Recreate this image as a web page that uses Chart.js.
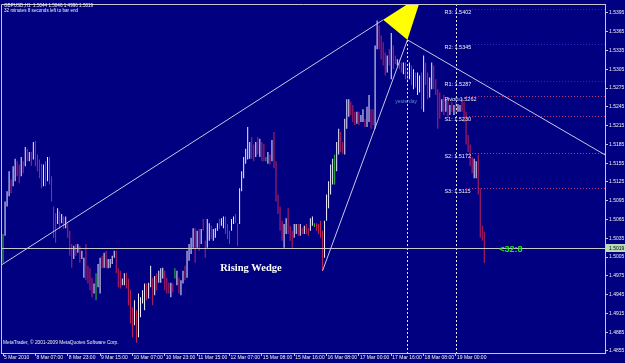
<!DOCTYPE html>
<html>
<head>
<meta charset="utf-8">
<style>
  html, body { margin: 0; padding: 0; background: #000080; }
  canvas { display: block; }
</style>
<script src="https://cdn.jsdelivr.net/npm/chart.js@4.4.1/dist/chart.umd.min.js"></script>
</head>
<body>
<canvas id="chart" width="625" height="363"></canvas>
<script>
// ==========================================
// DATA  (GBPUSD, H1 bars)
// ==========================================
const symbol = 'GBPUSD,H1';

const opens = [
  1.5019,1.5042,1.5089,1.5105,1.5126,1.5121,1.5130,1.5155,1.5150,1.5137,
  1.5155,1.5153,1.5175,1.5160,1.5170,1.5164,1.5187,1.5165,1.5158,1.5151,
  1.5121,1.5154,1.5129,1.5162,1.5130,1.5083,1.5072,1.5061,1.5075,1.5062,
  1.5067,1.5054,1.5056,1.5044,1.5023,1.5005,1.5023,1.5014,1.5020,1.5004,
  1.4975,1.5022,1.4988,1.4984,1.4969,1.4949,1.4957,1.4960,1.4950,1.5004,
  1.4991,1.5012,1.4989,1.4990,1.4996,1.5006,1.5012,1.4984,1.4980,1.4962,
  1.4963,1.4977,1.4968,1.4949,1.4922,1.4899,1.4917,1.4880,1.4912,1.4934,
  1.4923,1.4960,1.4942,1.4960,1.4969,1.4947,1.4976,1.4967,1.4967,1.4973,
  1.4980,1.4969,1.4962,1.4944,1.4961,1.4979,1.4963,1.4969,1.4947,1.4966,
  1.4988,1.4975,1.5002,1.5013,1.5023,1.5047,1.5023,1.5046,1.5029,1.5063,
  1.5028,1.5023,1.5034,1.5052,1.5034,1.5038,1.5049,1.5064,1.5057,1.5053,
  1.5067,1.5055,1.5044,1.5049,1.5060,1.5072,1.5056,1.5061,1.5113,1.5134,
  1.5157,1.5164,1.5165,1.5194,1.5182,1.5168,1.5194,1.5168,1.5186,1.5183,
  1.5162,1.5157,1.5167,1.5161,1.5201,1.5154,1.5102,1.5083,1.5060,1.5023,
  1.5045,1.5079,1.5052,1.5044,1.5039,1.5044,1.5056,1.5041,1.5050,1.5044,
  1.5056,1.5049,1.5049,1.5057,1.5056,1.5057,1.5056,1.5060,1.5044,1.5007,
  1.5066,1.5086,1.5108,1.5124,1.5145,1.5145,1.5172,1.5202,1.5187,1.5172,
  1.5213,1.5232,1.5251,1.5245,1.5234,1.5220,1.5235,1.5223,1.5223,1.5224,
  1.5216,1.5224,1.5238,1.5238,1.5213,1.5340,1.5372,1.5356,1.5345,1.5329,
  1.5303,1.5334,1.5292,1.5340,1.5325,1.5313,1.5319,1.5314,1.5299,1.5313,
  1.5302,1.5292,1.5308,1.5276,1.5297,1.5267,1.5271,1.5297,1.5245,1.5313,
  1.5297,1.5263,1.5276,1.5308,1.5286,1.5270,1.5265,1.5239,1.5261,1.5239,
  1.5257,1.5234,1.5251,1.5234,1.5251,1.5239,1.5239,1.5255,1.5250,1.5234,
  1.5197,1.5182,1.5162,1.5134,1.5134,1.5155,1.5108,1.5050,1.5044
];
const highs = [
  1.5042,1.5094,1.5110,1.5142,1.5129,1.5150,1.5162,1.5158,1.5153,1.5165,
  1.5158,1.5181,1.5178,1.5173,1.5173,1.5189,1.5191,1.5169,1.5161,1.5154,
  1.5153,1.5158,1.5165,1.5165,1.5134,1.5086,1.5075,1.5083,1.5078,1.5074,
  1.5070,1.5070,1.5059,1.5047,1.5026,1.5023,1.5026,1.5026,1.5023,1.5015,
  1.5004,1.5026,1.4991,1.4987,1.4972,1.4963,1.4979,1.4994,1.5004,1.5007,
  1.5012,1.5015,1.5002,1.5002,1.5007,1.5015,1.5015,1.4987,1.4983,1.4971,
  1.4979,1.4980,1.4971,1.4952,1.4925,1.4936,1.4920,1.4947,1.4941,1.4952,
  1.4963,1.4963,1.4964,1.4991,1.4972,1.4975,1.4979,1.4983,1.4987,1.4988,
  1.4983,1.4972,1.4964,1.4964,1.4963,1.4987,1.4983,1.4972,1.4968,1.4983,
  1.4991,1.5015,1.5026,1.5036,1.5051,1.5051,1.5047,1.5050,1.5050,1.5066,
  1.5031,1.5066,1.5059,1.5055,1.5050,1.5051,1.5059,1.5066,1.5067,1.5070,
  1.5070,1.5058,1.5047,1.5066,1.5070,1.5074,1.5059,1.5115,1.5142,1.5165,
  1.5178,1.5213,1.5189,1.5197,1.5185,1.5189,1.5197,1.5194,1.5189,1.5186,
  1.5165,1.5173,1.5169,1.5192,1.5205,1.5158,1.5105,1.5086,1.5063,1.5058,
  1.5067,1.5083,1.5055,1.5047,1.5058,1.5058,1.5058,1.5058,1.5051,1.5055,
  1.5058,1.5051,1.5067,1.5070,1.5059,1.5059,1.5058,1.5063,1.5047,1.5063,
  1.5105,1.5126,1.5153,1.5162,1.5169,1.5189,1.5210,1.5205,1.5189,1.5226,
  1.5257,1.5257,1.5253,1.5248,1.5237,1.5237,1.5237,1.5232,1.5241,1.5226,
  1.5245,1.5264,1.5241,1.5241,1.5343,1.5383,1.5375,1.5359,1.5348,1.5332,
  1.5327,1.5337,1.5363,1.5343,1.5327,1.5321,1.5321,1.5316,1.5316,1.5316,
  1.5305,1.5316,1.5311,1.5305,1.5300,1.5300,1.5295,1.5300,1.5327,1.5316,
  1.5300,1.5292,1.5316,1.5311,1.5289,1.5273,1.5268,1.5257,1.5264,1.5257,
  1.5260,1.5248,1.5253,1.5248,1.5253,1.5249,1.5248,1.5257,1.5253,1.5237,
  1.5200,1.5185,1.5165,1.5162,1.5158,1.5169,1.5115,1.5055,1.5046
];
const lows = [
  1.4996,1.5039,1.5086,1.5102,1.5107,1.5118,1.5126,1.5134,1.5123,1.5134,
  1.5139,1.5150,1.5158,1.5158,1.5151,1.5161,1.5150,1.5142,1.5131,1.5115,
  1.5118,1.5118,1.5126,1.5121,1.5094,1.5036,1.5028,1.5058,1.5050,1.5059,
  1.5050,1.5051,1.5036,1.5007,1.4988,1.5002,1.5007,1.5012,1.4996,1.5002,
  1.4972,1.4968,1.4963,1.4952,1.4941,1.4947,1.4936,1.4957,1.4947,1.4987,
  1.4988,1.4987,1.4987,1.4988,1.4994,1.5004,1.4979,1.4957,1.4955,1.4960,
  1.4960,1.4955,1.4928,1.4899,1.4877,1.4896,1.4868,1.4877,1.4909,1.4931,
  1.4920,1.4936,1.4939,1.4957,1.4928,1.4944,1.4952,1.4964,1.4964,1.4971,
  1.4952,1.4947,1.4947,1.4941,1.4949,1.4971,1.4960,1.4947,1.4944,1.4963,
  1.4968,1.4972,1.4999,1.5010,1.5020,1.4996,1.5020,1.5015,1.5026,1.5047,
  1.5004,1.5020,1.5031,1.5034,1.5031,1.5036,1.5047,1.5050,1.5055,1.5051,
  1.5042,1.5034,1.5026,1.5047,1.5058,1.5059,1.5023,1.5058,1.5110,1.5131,
  1.5154,1.5161,1.5162,1.5162,1.5158,1.5165,1.5169,1.5165,1.5158,1.5158,
  1.5158,1.5154,1.5153,1.5158,1.5147,1.5094,1.5074,1.5047,1.5031,1.5020,
  1.5042,1.5042,1.5031,1.5020,1.5036,1.5042,1.5039,1.5039,1.5042,1.5042,
  1.5042,1.5039,1.5047,1.5055,1.5053,1.5047,1.5042,1.5036,1.4983,1.5004,
  1.5063,1.5083,1.5105,1.5121,1.5121,1.5142,1.5169,1.5173,1.5170,1.5169,
  1.5210,1.5229,1.5232,1.5221,1.5216,1.5218,1.5216,1.5221,1.5221,1.5213,
  1.5213,1.5221,1.5210,1.5216,1.5210,1.5337,1.5337,1.5321,1.5311,1.5295,
  1.5300,1.5311,1.5289,1.5305,1.5313,1.5311,1.5305,1.5300,1.5297,1.5289,
  1.5284,1.5289,1.5280,1.5273,1.5276,1.5264,1.5268,1.5241,1.5237,1.5280,
  1.5257,1.5260,1.5273,1.5273,1.5264,1.5210,1.5226,1.5237,1.5232,1.5237,
  1.5229,1.5232,1.5237,1.5232,1.5234,1.5237,1.5237,1.5237,1.5221,1.5185,
  1.5173,1.5150,1.5139,1.5131,1.5131,1.5105,1.5036,1.5031,1.4996
];
const closes = [
  1.5019,1.5090,1.5107,1.5138,1.5110,1.5146,1.5158,1.5137,1.5126,1.5161,
  1.5142,1.5178,1.5161,1.5170,1.5154,1.5186,1.5153,1.5145,1.5134,1.5118,
  1.5150,1.5122,1.5162,1.5124,1.5097,1.5040,1.5031,1.5080,1.5053,1.5071,
  1.5053,1.5067,1.5039,1.5010,1.4991,1.5020,1.5010,1.5024,1.4999,1.5013,
  1.5001,1.4971,1.4966,1.4955,1.4944,1.4960,1.4957,1.4991,1.5001,1.4990,
  1.5009,1.4990,1.4999,1.5000,1.5005,1.5013,1.4982,1.4960,1.4958,1.4969,
  1.4976,1.4958,1.4931,1.4902,1.4880,1.4933,1.4871,1.4944,1.4938,1.4949,
  1.4960,1.4939,1.4961,1.4988,1.4931,1.4972,1.4955,1.4980,1.4984,1.4986,
  1.4955,1.4950,1.4950,1.4961,1.4951,1.4979,1.4980,1.4950,1.4965,1.4980,
  1.4971,1.5012,1.5023,1.5033,1.5048,1.4999,1.5044,1.5018,1.5047,1.5050,
  1.5007,1.5063,1.5056,1.5037,1.5047,1.5049,1.5057,1.5052,1.5065,1.5068,
  1.5045,1.5037,1.5029,1.5063,1.5068,1.5061,1.5026,1.5112,1.5139,1.5162,
  1.5175,1.5210,1.5186,1.5165,1.5161,1.5186,1.5172,1.5191,1.5161,1.5161,
  1.5162,1.5170,1.5155,1.5189,1.5150,1.5097,1.5077,1.5050,1.5034,1.5055,
  1.5064,1.5045,1.5034,1.5023,1.5055,1.5056,1.5041,1.5056,1.5044,1.5053,
  1.5044,1.5041,1.5065,1.5068,1.5056,1.5049,1.5044,1.5039,1.4986,1.5060,
  1.5102,1.5123,1.5150,1.5159,1.5145,1.5186,1.5207,1.5176,1.5172,1.5223,
  1.5254,1.5255,1.5234,1.5224,1.5218,1.5235,1.5218,1.5230,1.5239,1.5215,
  1.5242,1.5261,1.5213,1.5219,1.5340,1.5378,1.5340,1.5324,1.5314,1.5298,
  1.5324,1.5314,1.5360,1.5308,1.5315,1.5319,1.5307,1.5302,1.5314,1.5292,
  1.5287,1.5313,1.5283,1.5302,1.5279,1.5297,1.5292,1.5244,1.5324,1.5283,
  1.5260,1.5289,1.5313,1.5276,1.5267,1.5213,1.5229,1.5254,1.5235,1.5254,
  1.5232,1.5246,1.5239,1.5246,1.5236,1.5247,1.5246,1.5239,1.5224,1.5188,
  1.5176,1.5153,1.5142,1.5159,1.5155,1.5108,1.5040,1.5044,1.5019
];

// time axis: one label every 16 bars
const timeTickIndex = [0, 16, 32, 48, 64, 80, 96, 112, 128, 144, 160, 176, 192, 208, 224];
const timeLabels = ['5 Mar 2010', '8 Mar 07:00', '8 Mar 23:00', '9 Mar 15:00', '10 Mar 07:00',
  '10 Mar 23:00', '11 Mar 15:00', '12 Mar 07:00', '15 Mar 08:00', '15 Mar 16:00',
  '16 Mar 08:00', '17 Mar 00:00', '17 Mar 16:00', '18 Mar 08:00', '19 Mar 00:00'];

const priceTicks = [1.4855, 1.4885, 1.4915, 1.4945, 1.4975, 1.5005, 1.5035, 1.5065, 1.5095, 1.5125,
  1.5155, 1.5185, 1.5215, 1.5245, 1.5275, 1.5305, 1.5335, 1.5365, 1.5395];

// daily pivots
const pivotNames = ['R3', 'R2', 'R1', 'Pivot', 'S1', 'S2', 'S3'];
const pivotValues = [1.5402, 1.5345, 1.5287, 1.5262, 1.5230, 1.5172, 1.5115];

// objects on the chart, as [bar index, price]
const wedgeLine1 = [[-1, 1.4992], [188, 1.5384]];
const wedgeLine2 = [[158, 1.4983], [200, 1.5352]];
const breakLine = [[200, 1.5352], [300, 1.5164]];
const trianglePoints = [[188, 1.5384], [200, 1.5352], [207.2, 1.5424]];
const daySeparators = [200, 224];

const bidPrice = 1.5019;
const timeLeft = '32 minutes 8 seconds left to bar end';
const timerText = '<32:8';

// ==========================================
// STYLE
// ==========================================
const bgColor = '#000080';
const upColor = '#f0f0ff';
const downColor = '#c8205a';
const dojiColor = '#30c030';
const axisColor = '#c8c8c8';
const textColor = '#f0f0f0';
const smallFont = '"Liberation Sans", Arial, sans-serif';

const barColors = closes.map((c, i) => c > opens[i] ? upColor : (c < opens[i] ? downColor : dojiColor));
const last = closes.length - 1;

// ==========================================
// OVERLAY PLUGIN (objects, labels, frame)
// ==========================================
const overlay = {
  id: 'overlay',
  beforeDraw(chart) {
    const c = chart.ctx;
    c.save();
    c.fillStyle = bgColor;
    c.fillRect(0, 0, chart.width, chart.height);
    c.restore();
  },
  afterDatasetsDraw(chart) {
    const c = chart.ctx;
    const a = chart.chartArea;
    const xs = chart.scales.x, ys = chart.scales.y;
    const px = v => xs.getPixelForValue(v);
    const py = v => ys.getPixelForValue(v);
    const crisp = v => Math.round(v) + 0.5;

    c.save();
    c.beginPath();
    c.rect(a.left, a.top, a.right - a.left, a.bottom - a.top);
    c.clip();
    c.lineWidth = 1;

    // bid line
    const by = crisp(py(bidPrice));
    c.strokeStyle = '#c8c8c8';
    c.beginPath(); c.moveTo(a.left, by); c.lineTo(a.right, by); c.stroke();

    // day separators
    c.setLineDash([2, 2]);
    c.strokeStyle = '#e8e8e8';
    daySeparators.forEach(i => {
      const X = crisp(px(i));
      c.beginPath(); c.moveTo(X, a.top); c.lineTo(X, a.bottom); c.stroke();
    });

    // pivot levels
    c.setLineDash([1, 2]);
    pivotValues.forEach((v, k) => {
      c.strokeStyle = pivotNames[k].charAt(0) === 'R' ? '#2c2cc4' : '#c03a7a';
      const Y = crisp(py(v));
      c.beginPath(); c.moveTo(px(229), Y); c.lineTo(a.right, Y); c.stroke();
    });
    c.setLineDash([]);

    // trend lines
    c.strokeStyle = '#c8c8e8';
    [wedgeLine1, wedgeLine2, breakLine].forEach(l => {
      c.beginPath();
      c.moveTo(px(l[0][0]), py(l[0][1]));
      c.lineTo(px(l[1][0]), py(l[1][1]));
      c.stroke();
    });

    // triangle
    c.fillStyle = '#ffff00';
    c.beginPath();
    trianglePoints.forEach(([i, p], k) => k ? c.lineTo(px(i), py(p)) : c.moveTo(px(i), py(p)));
    c.closePath();
    c.fill();
    c.restore();

    // frame (left + top)
    c.save();
    c.strokeStyle = axisColor;
    c.lineWidth = 1;
    c.beginPath();
    c.moveTo(a.left + 0.5, a.bottom);
    c.lineTo(a.left + 0.5, a.top + 0.5);
    c.lineTo(a.right, a.top + 0.5);
    c.stroke();

    // pivot labels
    c.textAlign = 'left';
    c.textBaseline = 'middle';
    c.fillStyle = textColor;
    c.font = '5.5px ' + smallFont;
    pivotValues.forEach((v, k) => {
      c.fillText(pivotNames[k] + ': ' + v.toFixed(4), px(218.3), py(v) + 3.5);
    });

    c.fillStyle = '#5a8ad0';
    c.font = '5px ' + smallFont;
    c.fillText('yesterday', px(194), py(1.5253));
    c.fillText('today', px(221.5), py(1.5257));

    // chart text
    c.fillStyle = '#ffffff';
    c.textAlign = 'center';
    c.font = 'bold 10.5px "Liberation Serif", "Times New Roman", serif';
    c.fillText('Rising Wedge', px(122.6), py(1.4987));

    c.textAlign = 'left';
    c.fillStyle = '#22e022';
    c.font = 'bold 9px ' + smallFont;
    c.fillText(timerText, px(last) + 15, by + 1);

    // header + copyright
    c.fillStyle = textColor;
    c.font = '4.6px ' + smallFont;
    const q = [opens[last], highs[last], lows[last], closes[last]].map(v => v.toFixed(4)).join(' ');
    c.fillText(symbol + '  ' + q, 4, 5.5);
    c.fillText(timeLeft, 4, 10.5);
    c.font = '4.8px ' + smallFont;
    c.fillText('MetaTrader, \u00a9 2001-2009 MetaQuotes Software Corp.', 3, 343);

    // bid label on the price axis
    c.fillStyle = '#b8dcb8';
    c.fillRect(a.right + 1, by - 4.5, chart.width - a.right - 1, 8);
    c.fillStyle = '#000000';
    c.font = '5px ' + smallFont;
    c.fillText(bidPrice.toFixed(4), a.right + 4, by);
    c.restore();
  }
};

// ==========================================
// CHART
// ==========================================
const ctx = document.getElementById('chart').getContext('2d');

new Chart(ctx, {
  type: 'bar',
  data: {
    datasets: [{
      data: highs.map((h, i) => ({ x: i, y: [lows[i], h] })),
      backgroundColor: barColors,
      borderWidth: 0,
      barThickness: 1,
      inflateAmount: 0
    }]
  },
  options: {
    responsive: false,
    animation: false,
    devicePixelRatio: 1,
    layout: { padding: { left: 1, top: 1, right: 0, bottom: 0 } },
    plugins: {
      legend: { display: false },
      tooltip: { enabled: false }
    },
    scales: {
      x: {
        type: 'linear',
        min: -1,
        max: 297.7,
        offset: false,
        afterBuildTicks: s => { s.ticks = timeTickIndex.map(v => ({ value: v })); },
        afterFit: s => { s.height = 10; },
        grid: { display: true, drawOnChartArea: false, tickLength: 3, color: axisColor, offset: false },
        border: { display: true, color: axisColor },
        ticks: {
          autoSkip: false,
          maxRotation: 0,
          minRotation: 0,
          align: 'start',
          labelOffset: 1,
          padding: -1,
          color: textColor,
          font: { family: smallFont, size: 5 },
          callback: (v, i) => timeLabels[i]
        }
      },
      y: {
        position: 'right',
        min: 1.48518,
        max: 1.54093,
        afterBuildTicks: s => { s.ticks = priceTicks.map(v => ({ value: v })); },
        afterFit: s => { s.width = 20; },
        grid: { display: true, drawOnChartArea: false, tickLength: 3, color: axisColor },
        border: { display: true, color: axisColor },
        ticks: {
          autoSkip: false,
          padding: 1,
          color: textColor,
          font: { family: smallFont, size: 5 },
          callback: v => v.toFixed(4)
        }
      }
    }
  },
  plugins: [overlay]
});
</script>
</body>
</html>
